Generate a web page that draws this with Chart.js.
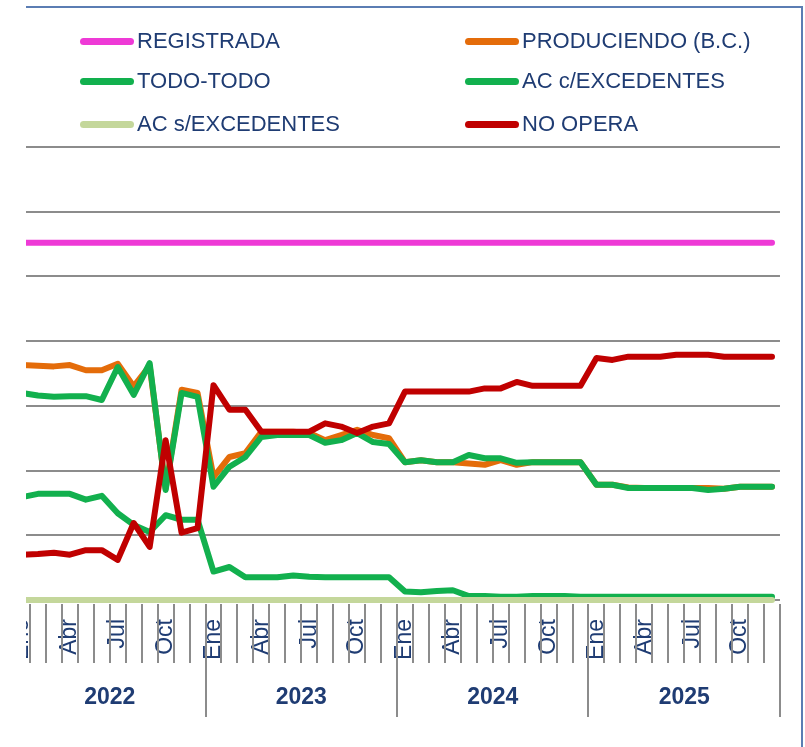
<!DOCTYPE html>
<html><head><meta charset="utf-8">
<script src="https://cdn.jsdelivr.net/npm/chart.js@4.4.1/dist/chart.umd.min.js"></script>
<style>
html,body{margin:0;padding:0;background:#fff;width:805px;height:747px;overflow:hidden;position:relative;}
#frame{position:absolute;left:26px;top:6px;width:775px;height:760px;border-top:2px solid #5b7db3;border-right:2px solid #5b7db3;}
#clip{position:absolute;left:26px;top:0;width:779px;height:747px;overflow:hidden;}
#clip canvas{position:absolute;left:-26px;top:0;}
.lg{position:absolute;font-family:"Liberation Sans",Arial,sans-serif;font-size:22px;color:#1f3c73;line-height:24px;white-space:nowrap;}
.sw{position:absolute;height:7px;border-radius:3.5px;}
</style></head><body>
<div id="clip"><canvas id="c" width="805" height="747"></canvas></div>
<div id="frame"></div>
<div id="legend"></div>
<script>
// ---- data ----
const monthNames = ['Ene','Feb','Mar','Abr','May','Jun','Jul','Ago','Sep','Oct','Nov','Dic'];
const years = ['2022','2023','2024','2025'];
const tickLabels = ['Ene','Abr','Jul','Oct'];
const categories = [];
years.forEach(y => monthNames.forEach(m => categories.push(m)));

const registrada = [5.52,5.52,5.52,5.52,5.52,5.52,5.52,5.52,5.52,5.52,5.52,5.52,
                    5.52,5.52,5.52,5.52,5.52,5.52,5.52,5.52,5.52,5.52,5.52,5.52,
                    5.52,5.52,5.52,5.52,5.52,5.52,5.52,5.52,5.52,5.52,5.52,5.52,
                    5.52,5.52,5.52,5.52,5.52,5.52,5.52,5.52,5.52,5.52,5.52,5.52];
const produciendo = [3.63,3.62,3.61,3.63,3.55,3.55,3.65,3.30,3.62,1.72,3.25,3.20,
                     1.90,2.21,2.27,2.60,2.60,2.60,2.58,2.47,2.55,2.63,2.55,2.50,
                     2.13,2.16,2.13,2.13,2.11,2.09,2.16,2.09,2.13,2.13,2.13,2.13,
                     1.78,1.78,1.74,1.73,1.73,1.73,1.73,1.73,1.72,1.75,1.75,1.75];
const todoTodo = [1.59,1.64,1.64,1.64,1.55,1.61,1.34,1.16,1.05,1.31,1.24,1.24,
                  0.44,0.51,0.35,0.35,0.35,0.38,0.36,0.35,0.35,0.35,0.35,0.35,
                  0.13,0.12,0.14,0.15,0.06,0.06,0.05,0.05,0.06,0.06,0.06,0.05,
                  0.05,0.05,0.05,0.05,0.05,0.05,0.05,0.05,0.05,0.05,0.05,0.05];
const acConExc = [3.20,3.16,3.14,3.15,3.15,3.09,3.60,3.17,3.66,1.70,3.20,3.14,
                  1.75,2.06,2.21,2.52,2.55,2.55,2.55,2.43,2.47,2.58,2.44,2.41,
                  2.13,2.16,2.13,2.13,2.24,2.19,2.19,2.12,2.13,2.13,2.13,2.13,
                  1.78,1.78,1.73,1.73,1.73,1.73,1.73,1.70,1.72,1.75,1.75,1.75];
const acSinExc = [0,0,0,0,0,0,0,0,0,0,0,0,
                  0,0,0,0,0,0,0,0,0,0,0,0,
                  0,0,0,0,0,0,0,0,0,0,0,0,
                  0,0,0,0,0,0,0,0,0,0,0,0];
const noOpera = [0.70,0.71,0.73,0.70,0.77,0.77,0.62,1.19,0.82,2.47,1.04,1.11,
                 3.32,2.94,2.94,2.60,2.60,2.60,2.60,2.73,2.68,2.58,2.68,2.73,
                 3.22,3.22,3.22,3.22,3.22,3.27,3.27,3.37,3.31,3.31,3.31,3.31,
                 3.74,3.71,3.76,3.76,3.76,3.79,3.79,3.79,3.76,3.76,3.76,3.76];

const seriesNames = ['REGISTRADA','PRODUCIENDO (B.C.)','TODO-TODO','AC c/EXCEDENTES','AC s/EXCEDENTES','NO OPERA'];
const seriesData = [registrada, produciendo, todoTodo, acConExc, acSinExc, noOpera];
const seriesColors = ['#ee3ad6','#e46c0a','#12b04e','#12b04e','#c4d79b','#c00000'];

const navy = '#1f3c73';
const gridColor = '#8c8c8c';

// ---- legend (HTML) ----
const legend = document.getElementById('legend');
const colX = [80, 465];
const rowY = [41, 81, 124];
seriesNames.forEach((name, i) => {
  const cx = colX[i % 2], cy = rowY[Math.floor(i / 2)];
  const sw = document.createElement('div');
  sw.className = 'sw';
  sw.style.left = cx + 'px'; sw.style.top = (cy - 3) + 'px'; sw.style.width = '54px';
  sw.style.background = seriesColors[i];
  legend.appendChild(sw);
  const t = document.createElement('div');
  t.className = 'lg';
  t.textContent = name;
  t.style.left = (cx + 57) + 'px'; t.style.top = (cy - 12) + 'px';
  legend.appendChild(t);
});

// ---- plugins ----
const gridPlugin = {
  id: 'hgrid',
  beforeDatasetsDraw(chart) {
    const { ctx, scales: { x, y }, chartArea } = chart;
    const step = x.getPixelForValue(1) - x.getPixelForValue(0);
    const x0 = chartArea.left;
    const x1 = x.getPixelForValue(categories.length - 1) + step * 0.5;
    ctx.save();
    ctx.strokeStyle = gridColor; ctx.lineWidth = 2;
    y.ticks.forEach(t => {
      const py = Math.round(y.getPixelForValue(t.value));
      ctx.beginPath(); ctx.moveTo(x0, py); ctx.lineTo(x1, py); ctx.stroke();
    });
    ctx.restore();
  }
};
const axisPlugin = {
  id: 'yearAxis',
  afterDraw(chart) {
    const { ctx, scales: { x }, chartArea } = chart;
    const step = x.getPixelForValue(1) - x.getPixelForValue(0);
    const b = chartArea.bottom;
    ctx.save();
    ctx.strokeStyle = gridColor; ctx.lineWidth = 2;
    for (let i = 0; i < categories.length; i++) {
      const bx = Math.round(x.getPixelForValue(i) + step / 2);
      const len = ((i + 1) % 12 === 0) ? 117 : 63;
      ctx.beginPath(); ctx.moveTo(bx, b + 4); ctx.lineTo(bx, b + len); ctx.stroke();
    }
    ctx.fillStyle = navy;
    ctx.font = 'bold 23px "Liberation Sans", Arial, sans-serif';
    ctx.textAlign = 'center'; ctx.textBaseline = 'middle';
    years.forEach((yr, k) => {
      const a = x.getPixelForValue(12 * k) - step / 2;
      const e = x.getPixelForValue(12 * k + 11) + step / 2;
      ctx.fillText(yr, (a + e) / 2, b + 98);
    });
    ctx.restore();
  }
};

// ---- chart ----
const order = [5, 4, 3, 2, 1, 0];
new Chart(document.getElementById('c'), {
  type: 'line',
  data: {
    labels: categories,
    datasets: seriesNames.map((n, i) => ({
      label: n,
      data: seriesData[i],
      borderColor: seriesColors[i],
      backgroundColor: seriesColors[i],
      borderWidth: 6,
      pointRadius: 0,
      tension: 0,
      fill: false,
      clip: 8,
      borderCapStyle: 'round',
      borderJoinStyle: 'round',
      order: order[i]
    }))
  },
  options: {
    responsive: false,
    animation: false,
    layout: { padding: { left: 14, right: 33, top: 147, bottom: 0 } },
    plugins: { legend: { display: false }, tooltip: { enabled: false } },
    scales: {
      x: {
        type: 'category',
        offset: false,
        grid: { display: false },
        border: { display: false },
        ticks: {
          autoSkip: false, minRotation: 90, maxRotation: 90, padding: 11,
          color: navy,
          font: { family: '"Liberation Sans", Arial, sans-serif', size: 23 },
          callback: (v, i) => tickLabels.includes(categories[i]) ? categories[i] : ''
        },
        afterFit: s => { s.height = 147; s.paddingLeft = 0; s.paddingRight = 0; }
      },
      y: {
        min: 0, max: 7,
        ticks: { display: false, stepSize: 1 },
        grid: { display: false },
        border: { display: false }
      }
    }
  },
  plugins: [gridPlugin, axisPlugin]
});
</script>
</body></html>
